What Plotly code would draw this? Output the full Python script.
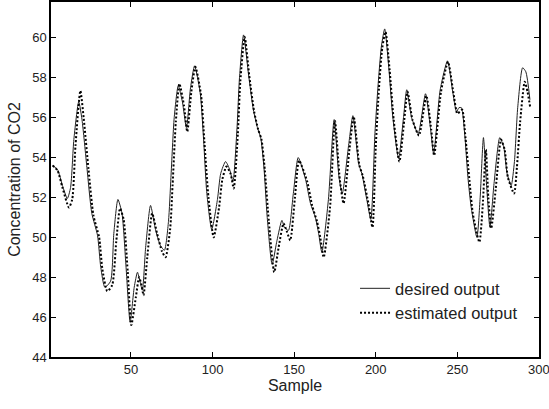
import plotly.graph_objects as go

# Desired output (sample index, value)
sample_desired = [2, 5, 8, 11, 13, 15, 18, 20, 23, 26, 29.5, 31.5, 34, 37.5, 39.5, 42, 44.5, 47, 49.5,
                  52, 54, 55.5, 57, 59, 62, 65, 68, 70.5, 73, 74.5, 76.5, 79, 81.5, 84, 86.5, 89, 92.5, 94.5,
                  96.5, 99.5, 103, 105, 108, 110.5, 112.5, 115, 116.5, 119, 122, 125, 127.5, 129.5, 131.5,
                  133.5, 136.5, 139.5, 142.5, 144, 146.5, 149.5, 152.5, 157, 160, 163, 165, 167, 171, 174.5,
                  177.5, 179.5, 183.5, 186, 189.5, 191.5, 194.5, 197, 199.5, 201.5, 203.5, 205.5, 208, 210.5,
                  214, 217, 219, 222, 226, 230.5, 233.5, 235.5, 239.5, 244, 247, 249.5, 251, 252.5, 254.5,
                  256.5, 258.5, 262, 264, 266, 268, 270, 272.5, 276, 278.5, 280.5, 283, 285, 287, 290, 292, 294.5]
desired = [53.6, 53.4, 52.6, 51.95, 52.5, 54.9, 56.8, 55.9, 53.5, 51.2, 50.1, 48.5, 47.5, 47.8, 50.2, 51.9,
           51.2, 48.5, 45.75, 47.5, 48.25, 47.8, 47.35, 49.5, 51.6, 50.4, 49.6, 49.35, 50.8, 53.0, 56.0, 57.6,
           56.8, 55.5, 57.5, 58.6, 57.2, 54.9, 52.2, 50.4, 51.9, 53.2, 53.8, 53.4, 52.8, 55.5, 58.0, 60.15, 58.2,
           56.4, 55.5, 55.0, 53.5, 51.0, 48.65, 49.85, 50.85, 50.5, 50.35, 52.2, 54.0, 52.9, 51.7, 51.0, 50.2,
           49.25, 51.9, 55.9, 53.0, 52.2, 54.7, 56.1, 53.7, 53.2, 51.9, 50.9, 55.2, 57.7, 59.6, 60.45, 58.5, 56.0,
           53.95, 56.0, 57.4, 56.0, 55.2, 57.2, 55.5, 54.2, 57.4, 58.85, 57.4, 56.3, 56.5, 56.5, 55.2, 53.0, 51.5,
           50.0, 52.0, 55.0, 52.5, 50.5, 52.7, 55.0, 54.5, 53.2, 52.6, 53.8, 56.5, 58.5, 58.3, 56.9]

# Estimated output (sample index, value)
sample_estimated = [2, 5, 8, 12, 14, 16, 19, 21, 24, 27, 30.5, 32.5, 35.5, 38.5, 41, 43.3, 45.5, 48, 50.2,
                    53, 55, 56.5, 57.7, 60, 63, 66, 69, 71.2, 74, 75.5, 77.5, 79.7, 82.5, 84.5, 87, 89.5, 93,
                    95, 97.5, 100.7, 104, 106, 108.5, 111, 113, 115.5, 117, 119.7, 122.5, 125.5, 128, 130, 132,
                    134.5, 137.8, 140.5, 143.5, 145.5, 147.6, 150.5, 153, 158, 161, 164, 166, 168.1, 172, 175,
                    178, 180.3, 184, 186.5, 190, 192, 195.5, 198, 200, 202, 204, 206, 208.5, 211, 214.5, 217.5,
                    219.5, 222.5, 226.5, 231, 234, 235.8, 240, 244.3, 247.5, 250, 251.5, 253, 255, 257.5, 259.5,
                    263.5, 265.5, 267.5, 269, 270.8, 273.5, 276.8, 279, 281, 284.8, 286.5, 288.5, 291.3, 293,
                    294.6]
estimated = [53.6, 53.35, 52.5, 51.5, 51.9, 54.6, 57.35, 56.0, 53.4, 51.1, 50.0, 48.4, 47.3, 47.6, 49.8, 51.45,
             50.9, 48.3, 45.6, 47.0, 48.0, 47.6, 47.1, 49.0, 51.2, 50.2, 49.3, 49.0, 50.4, 52.6, 55.8, 57.7, 56.6,
             55.3, 57.3, 58.55, 57.1, 54.8, 52.0, 50.0, 51.5, 52.9, 53.55, 53.2, 52.45, 55.2, 57.8, 60.05, 58.1,
             56.3, 55.4, 54.9, 53.4, 50.8, 48.25, 49.5, 50.7, 50.3, 49.85, 52.0, 53.85, 52.8, 51.6, 50.8, 50.0,
             49.0, 51.5, 55.85, 52.9, 51.7, 54.5, 56.05, 53.6, 53.1, 51.7, 50.5, 54.5, 57.5, 59.5, 60.3, 58.4, 55.9,
             53.8, 55.9, 57.3, 55.9, 55.1, 57.1, 55.4, 54.1, 57.3, 58.8, 57.3, 56.2, 56.3, 56.4, 55.0, 52.8, 51.2,
             49.76, 51.5, 54.4, 52.0, 50.45, 52.4, 54.9, 54.4, 53.0, 52.2, 53.5, 55.8, 57.8, 57.3, 56.55]

x_ticks = [50, 100, 150, 200, 250, 300]
y_ticks = [44, 46, 48, 50, 52, 54, 56, 58, 60]

FONT = "Liberation Sans, Arial"

fig = go.Figure()
fig.add_trace(go.Scatter(x=sample_desired, y=desired, mode="lines", name="desired output",
                         line=dict(color="#222222", width=1, shape="spline", smoothing=0.6)))
fig.add_trace(go.Scatter(x=sample_estimated, y=estimated, mode="lines", name="estimated output",
                         line=dict(color="black", width=2, dash="2px,2px", shape="spline", smoothing=0.6)))

axis_common = dict(showline=True, linecolor="black", linewidth=1.5, mirror="ticks", ticks="inside",
                   ticklen=5, tickcolor="black", tickwidth=1, showgrid=False, zeroline=False,
                   automargin=False, ticklabeloverflow="allow",
                   tickfont=dict(family=FONT, size=13, color="#222"))

fig.update_xaxes(range=[1, 300.05], tickvals=x_ticks,
                 title=dict(text="Sample", font=dict(family=FONT, size=16, color="#222"), standoff=2),
                 **axis_common)
fig.update_yaxes(range=[44, 61.8], tickvals=y_ticks,
                 title=dict(text="Concentration of CO2", font=dict(family=FONT, size=16, color="#222"),
                            standoff=8),
                 **axis_common)

fig.update_layout(
    width=549, height=409,
    margin=dict(l=51, r=10, t=2, b=52),
    plot_bgcolor="white", paper_bgcolor="white",
    showlegend=True,
    legend=dict(x=0.623, y=0.242, xanchor="left", yanchor="top", bgcolor="rgba(0,0,0,0)",
                font=dict(family=FONT, size=16.5, color="#222"),
                tracegroupgap=0, itemwidth=30),
)

fig.write_html("out.html", config={"displayModeBar": False},
               post_script="document.body.style.margin='0px';document.body.style.overflow='hidden';")
